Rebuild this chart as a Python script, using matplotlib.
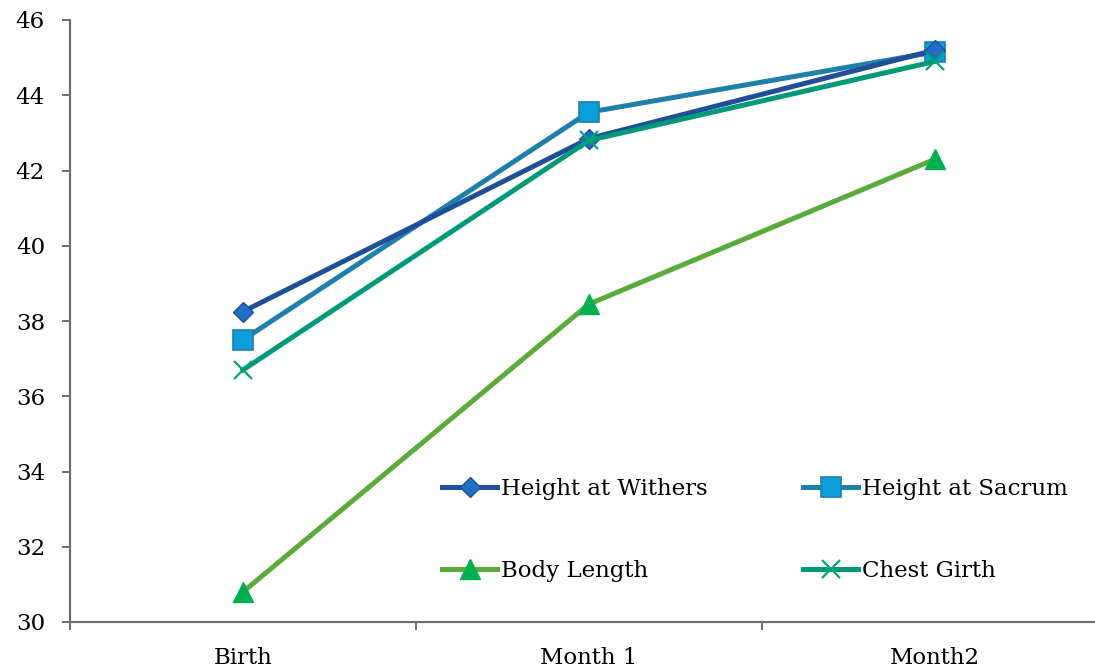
import numpy as np
import matplotlib
matplotlib.use("Agg")
import matplotlib.pyplot as plt
from matplotlib.ticker import FixedLocator

# ----------------------------------------------------------------------
# Data
# ----------------------------------------------------------------------
categories = ["Birth", "Month 1", "Month2"]
withers = [38.25, 42.85, 45.2]
sacrum = [37.5, 43.55, 45.15]
body_length = [30.8, 38.45, 42.3]
chest_girth = [36.7, 42.8, 44.9]

FONT = ["DejaVu Serif"]
C_AXIS = "#6e6e6e"

plt.rcParams.update({
    "font.family": FONT,
    "font.size": 16,
})

fig = plt.figure(figsize=(10.95, 6.72), dpi=100)
ax = fig.add_axes([70 / 1095, 50 / 672, 1038 / 1095, 602 / 672])
x = np.arange(len(categories))

h_w, = ax.plot(x, withers, color="#1f4f98", lw=3.6, marker="D", ms=10,
               mfc="#1f6fc6", mec="#1f4f98", mew=1, label="Height at Withers",
               zorder=4)
h_s, = ax.plot(x, sacrum, color="#1f7fab", lw=3.6, marker="s", ms=14,
               mfc="#0d9ddb", mec="#1f7fab", mew=1.2, label="Height at Sacrum",
               zorder=3)
h_b, = ax.plot(x, body_length, color="#5aab3c", lw=3.6, marker="^", ms=15,
               mfc="#00b050", mec="#00b050", label="Body Length", zorder=3)
h_c, = ax.plot(x, chest_girth, color="#009a78", lw=3.6, marker="x", ms=13,
               mec="#00a575", mew=1.6, label="Chest Girth", zorder=5)

ax.set_xlim(-0.5, 2.5)
ax.set_ylim(30, 46)
ax.set_yticks(np.arange(30, 47, 2))
ax.set_xticks(x)
ax.set_xticklabels(categories)
ax.xaxis.set_minor_locator(FixedLocator([-0.5, 0.5, 1.5]))

for side in ("top", "right"):
    ax.spines[side].set_visible(False)
for side in ("left", "bottom"):
    ax.spines[side].set_color(C_AXIS)
    ax.spines[side].set_linewidth(1.6)

ax.tick_params(axis="y", direction="out", length=6, width=1.4,
               color=C_AXIS, labelsize=16.5, pad=12)
ax.tick_params(axis="x", which="major", length=0, labelsize=16.5, pad=18)
ax.tick_params(axis="x", which="minor", direction="out", length=6,
               width=1.4, color=C_AXIS)

# legend rows: Withers | Sacrum  /  Body Length | Chest Girth
handles = [h_w, h_b, h_s, h_c]
leg = ax.legend(handles=handles, labels=[h.get_label() for h in handles],
                loc="upper left", bbox_to_anchor=(363 / 1038, 0.255),
                ncol=2, frameon=False, fontsize=16.5, handlelength=2.4,
                handletextpad=0.15, columnspacing=4.2, labelspacing=2.65,
                borderaxespad=0)

fig.savefig("out.png", dpi=100)
